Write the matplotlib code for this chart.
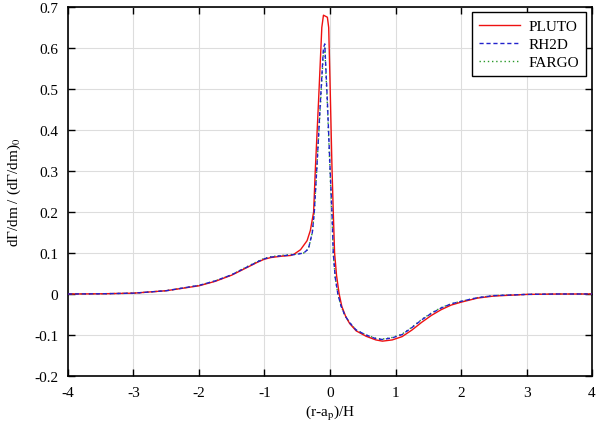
import matplotlib
matplotlib.use("Agg")
import matplotlib.pyplot as plt

plt.rcParams['font.family'] = ['Liberation Serif', 'DejaVu Serif']
plt.rcParams['mathtext.fontset'] = 'stix'

# PLUTO (red, solid)
pluto_x = [-4, -3.5, -3, -2.5, -2, -1.75, -1.5, -1.25, -1.1, -1, -0.9, -0.75, -0.6, -0.55, -0.45,
           -0.35, -0.3, -0.25, -0.225, -0.175, -0.125, -0.1, -0.04, -0.02, 0.0, 0.03,
           0.05, 0.07, 0.1, 0.14, 0.18, 0.24, 0.3, 0.4, 0.55, 0.7, 0.8, 0.95, 1.1, 1.25, 1.4,
           1.55, 1.7, 1.85, 2.0, 2.25, 2.5, 3.0, 3.5, 4]
pluto_y = [0.0, 0.0005, 0.002, 0.008, 0.02, 0.031, 0.046, 0.066, 0.078, 0.085, 0.089, 0.092, 0.094, 0.097, 0.108,
           0.13, 0.155, 0.2, 0.3, 0.47, 0.65, 0.68, 0.675, 0.65, 0.52, 0.31,
           0.2, 0.1, 0.045, 0.0, -0.03, -0.055, -0.072, -0.09, -0.103, -0.112, -0.115, -0.112, -0.104, -0.088, -0.069,
           -0.052, -0.038, -0.027, -0.02, -0.01, -0.005, -0.001, 0.0, 0.0]

# RH2D (blue, dashed)
rh2d_x = [-4, -3.5, -3, -2.5, -2, -1.75, -1.5, -1.25, -1.1, -1, -0.9, -0.75, -0.6, -0.5, -0.4,
          -0.33, -0.27, -0.24, -0.2, -0.15, -0.1, -0.08, -0.04, 0.0, 0.03, 0.05, 0.08, 0.12,
          0.17, 0.23, 0.3, 0.4, 0.55, 0.7, 0.8, 0.95, 1.1, 1.25, 1.4, 1.55, 1.7, 1.85, 2.0,
          2.25, 2.5, 3.0, 3.5, 4]
rh2d_y = [0.0, 0.0005, 0.002, 0.008, 0.021, 0.032, 0.047, 0.067, 0.079, 0.086, 0.09, 0.093, 0.095, 0.097, 0.1,
          0.11, 0.15, 0.2, 0.31, 0.46, 0.6, 0.61, 0.47, 0.31, 0.2, 0.1, 0.04, 0.0,
          -0.03, -0.053, -0.07, -0.088, -0.1, -0.109, -0.111, -0.107, -0.099, -0.082, -0.063, -0.047, -0.034, -0.024, -0.018,
          -0.009, -0.004, -0.001, 0.0, 0.0]

# FARGO (green, dotted)
fargo_x = [-4, -3.5, -3, -2.5, -2, -1.75, -1.5, -1.25, -1.1, -1, -0.9, -0.75, -0.6, -0.5, -0.4,
           -0.33, -0.27, -0.24, -0.2, -0.15, -0.1, -0.08, -0.04, 0.0, 0.03, 0.05, 0.08, 0.12,
           0.17, 0.23, 0.3, 0.4, 0.55, 0.7, 0.8, 0.95, 1.1, 1.25, 1.4, 1.55, 1.7, 1.85, 2.0,
           2.25, 2.5, 3.0, 3.5, 4]
fargo_y = [0.0, 0.0005, 0.002, 0.008, 0.021, 0.032, 0.047, 0.068, 0.08, 0.087, 0.091, 0.094, 0.096, 0.098, 0.1,
           0.11, 0.15, 0.2, 0.31, 0.45, 0.59, 0.6, 0.46, 0.3, 0.19, 0.1, 0.04, 0.0,
           -0.03, -0.053, -0.07, -0.088, -0.1, -0.108, -0.11, -0.106, -0.098, -0.081, -0.062, -0.046, -0.033, -0.024, -0.018,
           -0.009, -0.004, -0.001, 0.0, 0.0]

fig = plt.figure(figsize=(6, 4.27), dpi=100)
ax = fig.add_axes([0.1133, 0.1171, 0.8734, 0.8642])

ax.plot(pluto_x, pluto_y, color='#ee1111', lw=1.0, ls='-', label='PLUTO', zorder=3)
ax.plot(rh2d_x, rh2d_y, color='#2222cc', lw=1.0, ls=(0, (3, 2)), label='RH2D', zorder=4)
ax.plot(fargo_x, fargo_y, color='#2a9a2a', lw=1.0, ls=(0, (1, 2)), label='FARGO', zorder=2)

ax.set_xlim(-4, 4)
ax.set_ylim(-0.2, 0.7)
ax.set_xticks(range(-4, 5))
ax.set_yticks([-0.2, -0.1, 0, 0.1, 0.2, 0.3, 0.4, 0.5, 0.6, 0.7])
ax.set_yticklabels(['-0.2', '-0.1', '0', '0.1', '0.2', '0.3', '0.4', '0.5', '0.6', '0.7'])
ax.set_xticklabels([str(t) for t in range(-4, 5)])
ax.grid(True, color='#dddddd', lw=0.8)
ax.set_axisbelow(True)
ax.tick_params(direction='in', top=True, right=True, length=5, width=1, labelsize=11, pad=7)
for s in ax.spines.values():
    s.set_linewidth(1.2)

ax.set_xlabel(r'(r-a$_\mathrm{p}$)/H', fontsize=11, labelpad=3)
ax.set_ylabel(r'dΓ/dm / (dΓ/dm)$_0$', fontsize=11, labelpad=8)

leg = ax.legend(loc='upper right', fontsize=11, frameon=True, fancybox=False,
                edgecolor='black', framealpha=1, handlelength=2.7, handletextpad=0.55,
                borderpad=0.45, labelspacing=0.3, borderaxespad=0,
                bbox_to_anchor=(585.7 / 600, 1 - 13.3 / 427), bbox_transform=fig.transFigure)
leg.get_frame().set_linewidth(1.0)

fig.savefig('out.png', dpi=100)
